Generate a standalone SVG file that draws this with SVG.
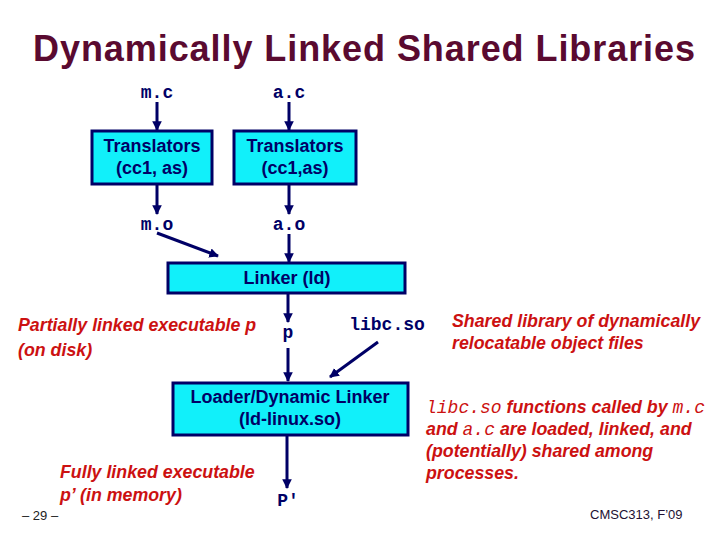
<svg xmlns="http://www.w3.org/2000/svg" width="720" height="540" viewBox="0 0 720 540">
<style>
.box{fill:#11f0fa;stroke:#000066;stroke-width:3}
.bt{font-family:"Liberation Sans",Arial,sans-serif;font-weight:bold;font-size:18px;fill:#000066;text-anchor:middle}
.mono{font-family:"Liberation Mono","Courier New",monospace;font-weight:bold;font-size:18px;fill:#000066}
.red{font-family:"Liberation Sans",Arial,sans-serif;font-weight:bold;font-style:italic;font-size:17.8px;fill:#cc1111}
.redm{font-family:"Liberation Mono","Courier New",monospace;font-weight:normal;font-style:italic;font-size:18px;fill:#cc1111}
.con{stroke:#000066;stroke-width:3;fill:none;marker-end:url(#ah)}
</style>
<defs>
<marker id="ah" viewBox="0 0 10 10" refX="9" refY="5" markerWidth="3.2" markerHeight="3.2" orient="auto" markerUnits="strokeWidth">
<path d="M0,0 L10,5 L0,10 z" fill="#000066"/>
</marker>
</defs>
<rect width="720" height="540" fill="#ffffff"/>
<text x="33" y="61" textLength="662" lengthAdjust="spacing" font-family="Liberation Sans,Arial,sans-serif" font-weight="bold" font-size="36" fill="#5a0a30">Dynamically Linked Shared Libraries</text>

<g id="connectors">
<line class="con" x1="157" y1="102" x2="157" y2="130"/>
<line class="con" x1="289" y1="102" x2="289" y2="130"/>
<line class="con" x1="157" y1="185" x2="157" y2="214"/>
<line class="con" x1="289" y1="185" x2="289" y2="214"/>
<line class="con" x1="157" y1="233" x2="218" y2="256"/>
<line class="con" x1="289" y1="234" x2="289" y2="262"/>
<line class="con" x1="288" y1="294" x2="288" y2="322"/>
<line class="con" x1="288" y1="348" x2="288" y2="381"/>
<line class="con" x1="378" y1="342" x2="330" y2="377"/>
<line class="con" x1="287" y1="436" x2="287" y2="488"/>
</g>

<g id="mc"><text class="mono" x="157" y="98" text-anchor="middle">m.c</text></g>
<g id="ac"><text class="mono" x="289" y="98" text-anchor="middle">a.c</text></g>
<g id="trans1"><rect class="box" x="92" y="131" width="120" height="53"/><text class="bt" x="152" y="152">Translators</text><text class="bt" x="152" y="174">(cc1, as)</text></g>
<g id="trans2"><rect class="box" x="234" y="131" width="122" height="53"/><text class="bt" x="295" y="152">Translators</text><text class="bt" x="295" y="174">(cc1,as)</text></g>
<g id="mo"><text class="mono" x="157" y="230" text-anchor="middle">m.o</text></g>
<g id="ao"><text class="mono" x="289" y="230" text-anchor="middle">a.o</text></g>
<g id="linker"><rect class="box" x="168" y="263" width="237" height="30"/><text class="bt" x="287" y="284">Linker (ld)</text></g>
<g id="p"><text class="mono" x="288" y="338" text-anchor="middle">p</text></g>
<g id="libc"><text class="mono" x="387" y="330" text-anchor="middle">libc.so</text></g>
<g id="loader"><rect class="box" x="173" y="383" width="235" height="52"/><text class="bt" x="290" y="403">Loader/Dynamic Linker</text><text class="bt" x="290" y="425">(ld-linux.so)</text></g>
<g id="pprime"><text class="mono" x="288" y="506" text-anchor="middle">P′</text></g>

<text class="red" x="18" y="331">Partially linked executable p</text>
<text class="red" x="18" y="356">(on disk)</text>
<text class="red" x="60" y="478">Fully linked executable</text>
<text class="red" x="60" y="501">p’ (in memory)</text>
<text class="red" x="452" y="327">Shared library of dynamically</text>
<text class="red" x="452" y="349">relocatable object files</text>
<text class="red" x="426" y="413"><tspan class="redm">libc.so</tspan> functions called by <tspan class="redm">m.c</tspan></text>
<text class="red" x="426" y="435">and <tspan class="redm">a.c</tspan> are loaded, linked, and</text>
<text class="red" x="426" y="457">(potentially) shared among</text>
<text class="red" x="426" y="479">processes.</text>
<text x="22" y="520" font-family="Liberation Sans,Arial,sans-serif" font-size="13" fill="#222222">– 29 –</text>
<text x="590" y="519" font-family="Liberation Sans,Arial,sans-serif" font-size="13" fill="#221133">CMSC313, F’09</text>
</svg>
